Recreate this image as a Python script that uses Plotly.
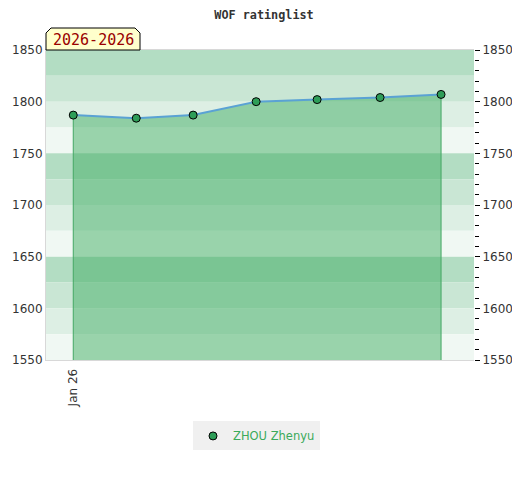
import plotly.graph_objects as go

dates = ["2026-01-01", "2026-02-01", "2026-03-01", "2026-04-01", "2026-05-01", "2026-06-01", "2026-07-01"]
ratings = [1787, 1784, 1787, 1800, 1802, 1804, 1807]
player = "ZHOU Zhenyu"
period_label = "2026-2026"
title = "WOF ratinglist"

y_min, y_max = 1550, 1850
band_colors = ["#b3ddc3", "#c9e6d4", "#ddefe4", "#f0f8f3"]

W, H = 512, 472
ML, MR, MT, MB = 38, 46, 42, 120
PW, PH = W - ML - MR, H - MT - MB

fig = go.Figure()

fig.add_trace(go.Scatter(x=dates, y=ratings, mode="lines", fill="tozeroy",
                         fillcolor="rgba(65,173,100,0.5)", line=dict(width=0),
                         showlegend=False, hoverinfo="skip"))
fig.add_trace(go.Scatter(x=[dates[0], dates[0], None, dates[-1], dates[-1]],
                         y=[y_min, ratings[0], None, y_min, ratings[-1]],
                         mode="lines", line=dict(color="#44a864", width=1),
                         showlegend=False, hoverinfo="skip"))
fig.add_trace(go.Scatter(x=dates, y=ratings, mode="lines",
                         line=dict(color="#5aa2d4", width=2),
                         showlegend=False, hoverinfo="skip"))
fig.add_trace(go.Scatter(x=dates, y=ratings, mode="markers", name=player,
                         marker=dict(color="#2e9d58", size=8, line=dict(color="#000", width=1))))
fig.add_trace(go.Scatter(x=[dates[0]], y=[ratings[0]], yaxis="y2", mode="markers",
                         marker=dict(opacity=0), showlegend=False, hoverinfo="skip"))

shapes = []
step = 25
n = (y_max - y_min) // step
for i in range(n):
    top = y_max - i * step
    shapes.append(dict(type="rect", xref="paper", yref="y", x0=0, x1=1, y0=top - step, y1=top,
                       fillcolor=band_colors[i % 4], line=dict(width=0), layer="below"))

# label box with chamfered top corners
bw, bh, c = 94 / PW, 22 / PH, 5
cx, cy = c / PW, c / PH
path = (f"M 0,1 L 0,{1 + bh - cy} L {cx},{1 + bh} L {bw - cx},{1 + bh} "
        f"L {bw},{1 + bh - cy} L {bw},1 Z")
shapes.append(dict(type="path", xref="paper", yref="paper", path=path,
                   fillcolor="#ffffcc", line=dict(color="#000", width=1)))

fig.update_layout(
    width=W, height=H,
    margin=dict(l=ML, r=MR, t=MT, b=MB),
    paper_bgcolor="white", plot_bgcolor="white",
    title=dict(text="<b>" + title + "</b>", x=0.5, xanchor="center", y=1 - 3 / H, yanchor="top",
               font=dict(family="DejaVu Sans Mono", size=11.8, color="#333")),
    shapes=shapes,
    xaxis=dict(type="date", range=["2025-12-18 14:00", "2026-07-17 05:00"],
               tickformat="%b %y", dtick="M12", tick0="2026-01-01", tickangle=-90,
               showgrid=False, zeroline=False, showline=True, linecolor="#d8d8d8",
               mirror=True, ticks="", automargin=False, ticklabelstandoff=3,
               tickfont=dict(family="DejaVu Sans", size=12, color="#333")),
    yaxis=dict(range=[y_min, y_max], dtick=50, showgrid=False, zeroline=False,
               showline=True, linecolor="#d8d8d8", ticks="", automargin=False,
               tickfont=dict(family="DejaVu Sans", size=12, color="#333")),
    yaxis2=dict(range=[y_min, y_max], dtick=50, overlaying="y", side="right",
                showgrid=False, zeroline=False, showline=False, automargin=False,
                ticks="outside", ticklen=5, tickcolor="#000",
                minor=dict(dtick=10, ticks="outside", ticklen=4, tickcolor="#000"),
                tickfont=dict(family="DejaVu Sans", size=12, color="#333")),
    legend=dict(orientation="h", x=(185 - ML) / PW, xanchor="left", y=-0.245, yanchor="middle",
                bgcolor="#f0f0f0", font=dict(family="DejaVu Sans", size=11.5, color="#3aaa5a")),
    annotations=[dict(text=period_label, xref="paper", yref="paper", x=bw / 2, y=1 + bh / 2 - 0.002,
                      xanchor="center", yanchor="middle", showarrow=False,
                      font=dict(family="DejaVu Sans Mono", size=15, color="#990000"))],
)

fig.write_html("out.html")
